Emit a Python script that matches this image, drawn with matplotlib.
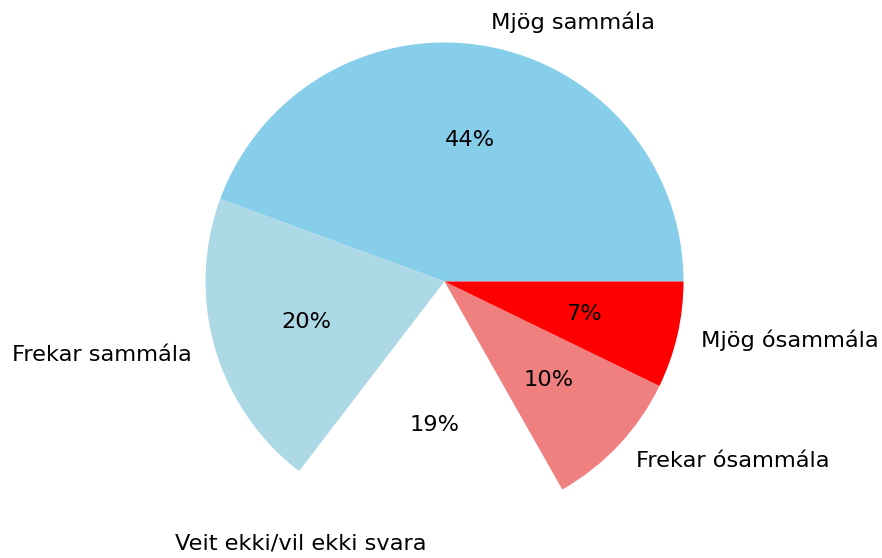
import matplotlib
matplotlib.use("Agg")
import matplotlib.pyplot as plt

labels = ["Mjög sammála", "Frekar sammála", "Veit ekki/vil ekki svara",
          "Frekar ósammála", "Mjög ósammála"]
shares = [44.4, 20.2, 18.6, 9.6, 7.2]
colors = ["skyblue", "lightblue", "white", "lightcoral", "red"]

fig = plt.figure(figsize=(8.82, 5.58), dpi=100)
# pie radius ~239 px, centre at (444.5, 281.5) from top-left
side = 2.5 * 239
ax = fig.add_axes([(444.5 - side / 2) / 882, (276.5 - side / 2) / 558,
                   side / 882, side / 558])
ax.pie(shares, labels=labels, colors=colors, autopct="%1.0f%%",
       startangle=0, textprops={"fontsize": 16.2})
ax.set_aspect("equal")

fig.savefig("out.png", dpi=100)
